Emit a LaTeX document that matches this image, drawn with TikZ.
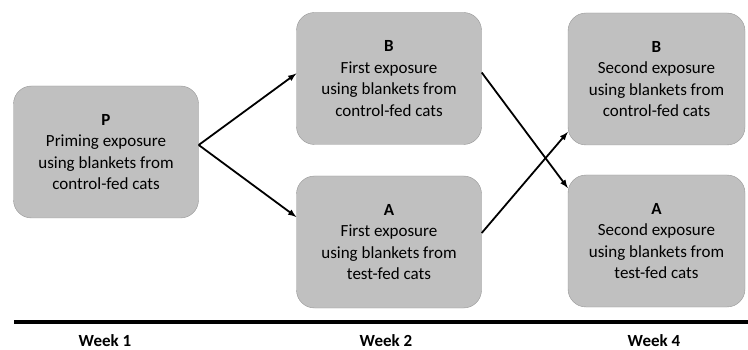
\documentclass[tikz,border=0pt]{standalone}
\usepackage{fontspec}
\setmainfont{Carlito}
\usepackage{tikz}

\begin{document}
\begin{tikzpicture}[x=1pt,y=-1pt,
  stage/.style={draw={rgb,255:red,150;green,150;blue,150},fill={rgb,255:red,192;green,192;blue,192},rounded corners=18pt,minimum width=185pt,minimum height=132pt,inner sep=0pt,align=center,font=\fontsize{17}{21.5}\selectfont},
  link/.style={line width=1.8pt,-latex},
  week/.style={font=\fontsize{17}{20}\selectfont\bfseries,inner sep=1pt}]
\useasboundingbox (0,0) rectangle (748,350);
\node[stage] (P) at (106,152) {\textbf{P}\\Priming exposure\\using blankets from\\control-fed cats};
\node[stage] (B1) at (389,78.5) {\textbf{B}\\First exposure\\using blankets from\\control-fed cats};
\node[stage] (A1) at (389,242) {\textbf{A}\\First exposure\\using blankets from\\test-fed cats};
\node[stage,minimum width=177pt] (B2) at (656.5,79) {\textbf{B}\\Second exposure\\using blankets from\\control-fed cats};
\node[stage,minimum width=177pt] (A2) at (656.5,241) {\textbf{A}\\Second exposure\\using blankets from\\test-fed cats};
\draw[link] ([yshift=7pt]P.east) -- ([yshift=5pt]B1.west);
\draw[link] ([yshift=7pt]P.east) -- ([yshift=25pt]A1.west);
\draw[link] ([yshift=6pt]B1.east) -- ([yshift=53pt]A2.west);
\draw[link] ([yshift=9pt]A1.east) -- ([yshift=-53pt]B2.west);
\coordinate (t0) at (14,322);
\coordinate (t1) at (748,322);
\draw[line width=4pt] (t0) -- (t1);
\node[week] (w1) at (105,340.5) {Week 1};
\node[week] (w2) at (386,340.5) {Week 2};
\node[week] (w4) at (654,340.5) {Week 4};
\end{tikzpicture}
\end{document}
